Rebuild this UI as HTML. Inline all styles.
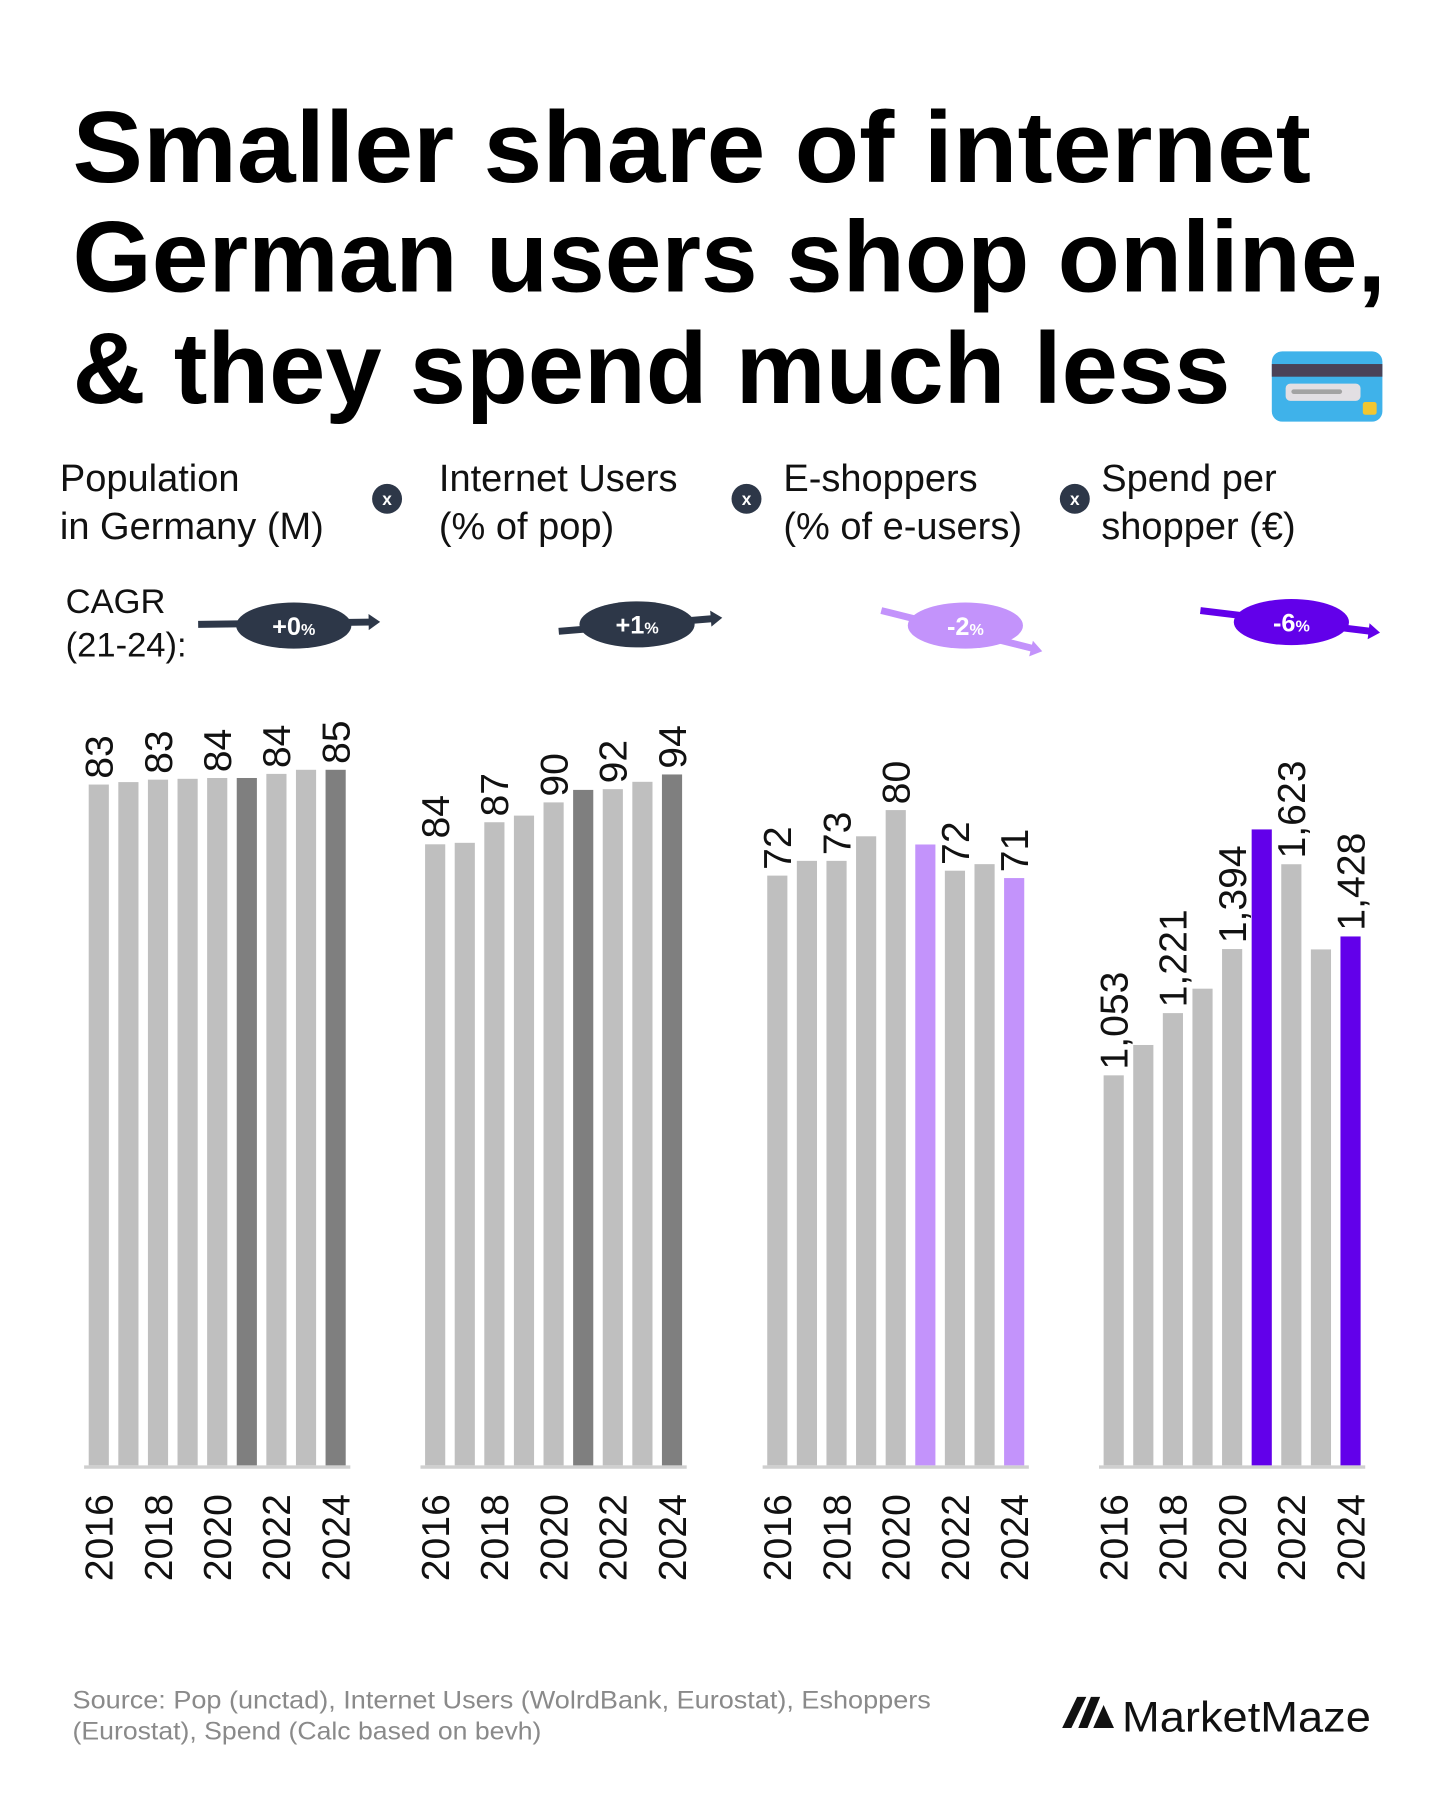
<!DOCTYPE html>
<html><head><meta charset="utf-8"><style>
html,body{margin:0;padding:0;background:#fff;}
svg{display:block;font-family:"Liberation Sans",sans-serif;}
</style></head><body>
<svg id="chart" width="1440" height="1800" viewBox="0 0 1250 1562.5" xmlns="http://www.w3.org/2000/svg">
<rect width="1250" height="1562.5" fill="#fff"/>
<g font-weight="bold" font-size="88" fill="#000">
<text x="63" y="158" textLength="1075" lengthAdjust="spacingAndGlyphs">Smaller share of internet</text>
<text x="63" y="253" textLength="1140" lengthAdjust="spacingAndGlyphs">German users shop online,</text>
<text x="63" y="350" textLength="1005" lengthAdjust="spacingAndGlyphs">&amp; they spend much less</text>
</g>
<g>
<rect x="1104" y="305" width="96" height="61" rx="9" fill="#3fb2ea"/>
<rect x="1104" y="316" width="96" height="11" fill="#4a4258"/>
<rect x="1116" y="333" width="65" height="15" rx="4" fill="#e2dfe3"/>
<rect x="1121" y="338" width="44" height="4" rx="2" fill="#a3a3a3"/>
<rect x="1183" y="349" width="12" height="11" rx="2" fill="#f2c630"/>
</g>
<g font-size="33" fill="#111">
<text x="52" y="426">Population</text><text x="52" y="468">in Germany (M)</text>
<text x="381" y="426">Internet Users</text><text x="381" y="468">(% of pop)</text>
<text x="680" y="426">E-shoppers</text><text x="680" y="468">(% of e-users)</text>
<text x="956" y="426">Spend per</text><text x="956" y="468">shopper (€)</text>
</g>
<g font-size="15" font-weight="bold" fill="#fff" text-anchor="middle">
<circle cx="336" cy="433" r="13" fill="#2d3748"/><text x="336" y="438.5">x</text>
<circle cx="648" cy="433" r="13" fill="#2d3748"/><text x="648" y="438.5">x</text>
<circle cx="933" cy="433" r="13" fill="#2d3748"/><text x="933" y="438.5">x</text>
</g>
<g font-size="30" fill="#111">
<text x="57" y="532">CAGR</text><text x="57" y="570">(21-24):</text>
</g>
<g id="cagr"></g>
<g id="bars"></g>
<g>
<text x="63" y="1483" font-size="22" fill="#8a8a8a" textLength="745" lengthAdjust="spacingAndGlyphs">Source: Pop (unctad), Internet Users (WolrdBank, Eurostat), Eshoppers</text>
<text x="63" y="1510" font-size="22" fill="#8a8a8a" textLength="407" lengthAdjust="spacingAndGlyphs">(Eurostat), Spend (Calc based on bevh)</text>
<g>
<path d="M922 1500 L935 1473 L943 1473 L930 1500 Z M936 1500 L947 1473 L955 1473 L944 1500 Z M949 1500 L958 1480 L967 1500 Z" fill="#111"/>
<text x="974" y="1503" font-size="37" fill="#111" textLength="216" lengthAdjust="spacingAndGlyphs">MarketMaze</text>
</g>
</g>
</svg>
<script>
const years = [2016,2017,2018,2019,2020,2021,2022,2023,2024];
const popValues = [83.0,83.3,83.6,83.7,83.8,83.8,84.3,84.8,84.8];
const popLabels = ["83","","83","","84","","84","","85"];
const netValues = [84.5,84.7,87.5,88.4,90.2,91.9,92.0,93.0,94.0];
const netLabels = ["84","","87","","90","","92","","94"];
const shopValues = [72.0,73.8,73.8,76.8,80.0,75.8,72.6,73.4,71.7];
const shopLabels = ["72","","73","","80","","72","","71"];
const spendValues = [1053,1135,1221,1287,1394,1717,1623,1393,1428];
const spendLabels = ["1,053","","1,221","","1,394","","1,623","","1,428"];
const cagrLabels = ["+0","+1","-2","-6"];

const NS="http://www.w3.org/2000/svg";
function mk(tag,attrs,parent){const e=document.createElementNS(NS,tag);for(const k in attrs)e.setAttribute(k,attrs[k]);parent.appendChild(e);return e;}
const base=1272, pitch=25.7, bw=17.5;
const panels=[
 {x0:77,vals:popValues,labs:popLabels,scale:7.12,hi:"#7f7f7f",name:"population"},
 {x0:369,vals:netValues,labs:netLabels,scale:6.38,hi:"#7f7f7f",name:"internet-users"},
 {x0:666,vals:shopValues,labs:shopLabels,scale:7.11,hi:"#c393fb",name:"e-shoppers"},
 {x0:958,vals:spendValues,labs:spendLabels,scale:0.3215,hi:"#6200ea",name:"spend"}];
const barsG=document.getElementById('bars');
panels.forEach(p=>{
 const g=mk('g',{},barsG);
 
 
 const ax=mk('line',{x1:p.x0-4,x2:p.x0+8*pitch+bw+4,y1:base+1.5,y2:base+1.5,stroke:"#cfcfcf","stroke-width":3},g);
 
 
 p.vals.forEach((v,i)=>{
  const x=p.x0+i*pitch, h=v*p.scale, y=base-h;
  const hi=(years[i]===2021||years[i]===2024);
  const r=mk('rect',{x:x,y:y,width:bw,height:h,fill:hi?p.hi:"#bfbfbf"},g);
  
  
  const cx=x+bw/2;
  if(p.labs[i]){
   const t=mk('text',{x:0,y:0,"font-size":34,fill:"#111",transform:`translate(${cx+12},${y-5}) rotate(-90)`},g);
   t.textContent=p.labs[i];
   
   
  }
  if(years[i]%2===0){
   const t=mk('text',{x:0,y:0,"font-size":34,fill:"#111","text-anchor":"end",transform:`translate(${cx+12},${base+25}) rotate(-90)`},g);
   t.textContent=years[i];
   
   
  }
 });
});
const arrows=[
 {x1:172,y1:542,x2:328,y2:540,cx:255,cy:543,c:"#2d3748"},
 {x1:485,y1:548,x2:625,y2:537,cx:553,cy:542,c:"#2d3748"},
 {x1:765,y1:530,x2:903,y2:563,cx:838,cy:543,c:"#c393fb"},
 {x1:1042,y1:530,x2:1196,y2:548,cx:1121,cy:540,c:"#6200ea"}];
const cg=document.getElementById('cagr');
arrows.forEach((a,i)=>{
 const g=mk('g',{},cg);
 
 
 mk('line',{x1:a.x1,y1:a.y1,x2:a.x2-6,y2:a.y2,stroke:a.c,"stroke-width":6},g);
 const ang=Math.atan2(a.y2-a.y1,a.x2-a.x1)*180/Math.PI;
 mk('path',{d:"M0 -7 L10 0 L0 7 Z",fill:a.c,transform:`translate(${a.x2-8},${a.y2}) rotate(${ang})`},g);
 mk('ellipse',{cx:a.cx,cy:a.cy,rx:50,ry:20,fill:a.c},g);
 const t=mk('text',{x:a.cx,y:a.cy+8,"font-size":22,"font-weight":"bold",fill:"#fff","text-anchor":"middle"},g);
 t.textContent=cagrLabels[i];
 const s=mk('tspan',{"font-size":14},t); s.textContent="%";
});
</script>
</body></html>
